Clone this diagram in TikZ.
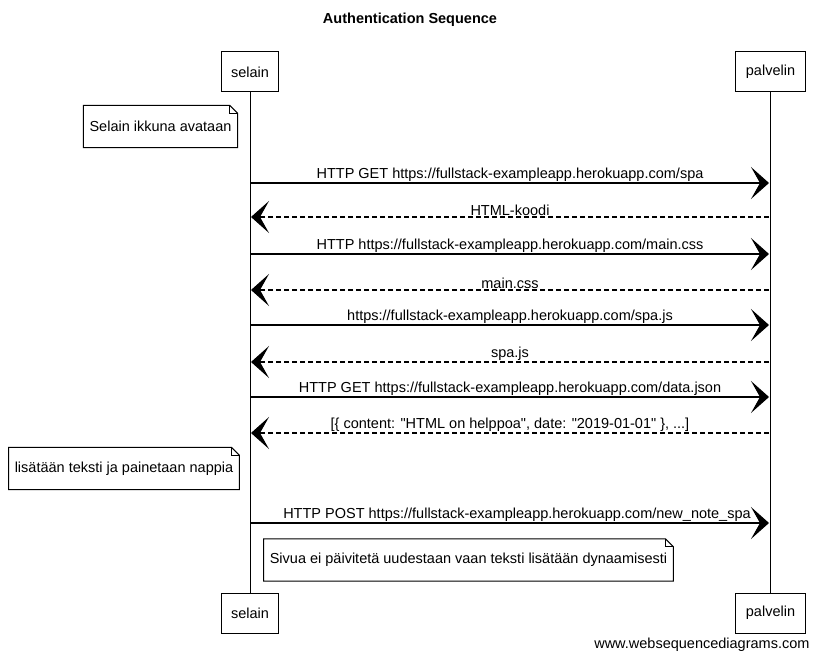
\documentclass[tikz,border=0pt]{standalone}
\usepackage{fontspec}
\setmainfont{Liberation Sans}
\usetikzlibrary{arrows.meta}

\begin{document}
\begin{tikzpicture}[x=1pt,y=-1pt,
    every node/.style={font=\fontsize{14.5}{17}\selectfont},
    actor/.style={draw,line width=1pt,minimum height=40pt,inner xsep=10pt},
    lbl/.style={above,inner sep=0.5pt},
    msg/.style={line width=1.1pt,-{Stealth[length=18pt,width=32pt,inset=9pt]}},
    reply/.style={msg,dash pattern=on 5pt off 3pt},
    note/.style={minimum height=42pt,inner xsep=6pt}]
  \useasboundingbox (0,0) rectangle (819,660) ;
  \node[font=\bfseries\fontsize{14.5}{17}\selectfont] (title) at (410,20) {Authentication Sequence} ;
  % participants, top and bottom
  \node[actor] (selA) at (250,72) {selain} ;
  \node[actor] (palA) at (770.5,72) {palvelin} ;
  \node[actor] (selB) at (250,613) {selain} ;
  \node[actor] (palB) at (770.5,613) {palvelin} ;
  \draw[line width=0.8pt] (selA) -- (selB) ;
  \draw[line width=0.8pt] (palA) -- (palB) ;
  % message rows on the lifelines
  \foreach \y/\n in {183/1,217/2,254/3,290/4,325/5,362/6,397/7,433/8,523/9}
    {\coordinate (s\n) at (251,\y) ;
     \coordinate (p\n) at (769,\y) ;}
  \draw[msg] (s1) -- node[lbl] {HTTP GET https://fullstack-exampleapp.herokuapp.com/spa} (p1) ;
  \draw[reply] (p2) -- node[lbl] {HTML-koodi} (s2) ;
  \draw[msg] (s3) -- node[lbl] {HTTP https://fullstack-exampleapp.herokuapp.com/main.css} (p3) ;
  \draw[reply] (p4) -- node[lbl] {main.css} (s4) ;
  \draw[msg] (s5) -- node[lbl] {https://fullstack-exampleapp.herokuapp.com/spa.js} (p5) ;
  \draw[reply] (p6) -- node[lbl] {spa.js} (s6) ;
  \draw[msg] (s7) -- node[lbl] {HTTP GET https://fullstack-exampleapp.herokuapp.com/data.json} (p7) ;
  \draw[reply] (p8) -- node[lbl] {[\{ content: \textquotedbl HTML on helppoa\textquotedbl, date: \textquotedbl 2019-01-01\textquotedbl\ \}, ...]} (s8) ;
  \draw[msg] (s9) -- node[lbl,xshift=7pt] {HTTP POST https://fullstack-exampleapp.herokuapp.com/new\_note\_spa} (p9) ;
  % notes
  \node[note] (n1) at (160.5,126.5) {Selain ikkuna avataan} ;
  \node[note] (n2) at (124,468.5) {lisätään teksti ja painetaan nappia} ;
  \node[note] (n3) at (468.5,560) {Sivua ei päivitetä uudestaan vaan teksti lisätään dynaamisesti} ;
  \foreach \n in {n1,n2,n3}
    {\draw[line width=1pt] (\n.north west) -- ([xshift=-8pt]\n.north east)
       -- ([yshift=-8pt]\n.north east) -- (\n.south east) -- (\n.south west) -- cycle ;
     \draw[line width=0.8pt] ([xshift=-8pt]\n.north east) |- ([yshift=-8pt]\n.north east) ;}
  \node[anchor=east] (wsd) at (813,645) {www.websequencediagrams.com} ;
\end{tikzpicture}
\end{document}
